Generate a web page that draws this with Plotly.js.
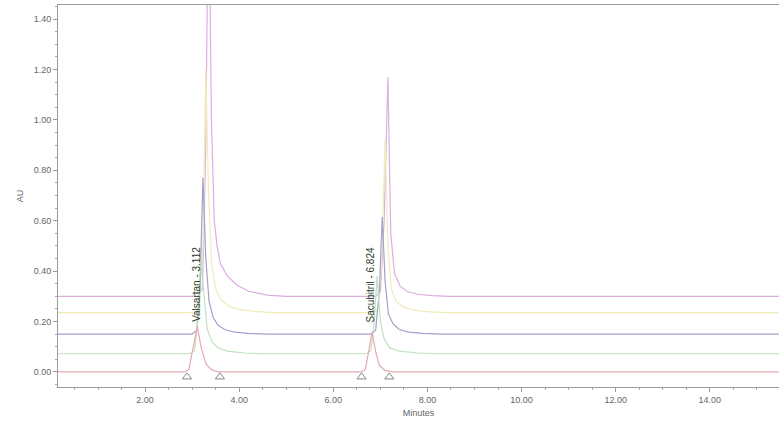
<!DOCTYPE html>
<html>
<head>
<meta charset="utf-8">
<script src="https://cdn.plot.ly/plotly-3.0.1.min.js"></script>
<style>html,body{margin:0;padding:0;background:#fff;}#chart{width:779px;height:421px;}</style>
</head>
<body>
<div id="chart"></div>
<script>
// Chromatogram traces (time in minutes, absorbance in AU)
const timeRed = [0.15, 2.85, 2.93, 3.02, 3.11, 3.2, 3.3, 3.42, 3.55, 6.6, 6.68, 6.75, 6.824, 6.9, 6.98, 7.1, 7.25, 15.5];
const auRed   = [0, 0, 0.01, 0.09, 0.18, 0.09, 0.03, 0.008, 0, 0, 0.01, 0.08, 0.16, 0.08, 0.025, 0.006, 0, 0];

const timeGreen = [0.15, 2.95, 3.05, 3.12, 3.18, 3.25, 3.32, 3.42, 3.55, 3.75, 4.1, 4.5, 6.7, 6.8, 6.87, 6.93, 7.0, 7.08, 7.2, 7.4, 7.8, 8.2, 15.5];
const auGreen   = [0.072, 0.072, 0.085, 0.2, 0.45, 0.3, 0.17, 0.12, 0.095, 0.082, 0.075, 0.072, 0.072, 0.085, 0.2, 0.38, 0.2, 0.13, 0.095, 0.082, 0.075, 0.072, 0.072];

const timeBlue = [0.15, 3.0, 3.1, 3.17, 3.23, 3.29, 3.36, 3.45, 3.55, 3.7, 3.9, 4.2, 4.6, 6.8, 6.9, 6.98, 7.04, 7.1, 7.17, 7.27, 7.4, 7.6, 7.9, 8.3, 15.5];
const auBlue   = [0.15, 0.15, 0.165, 0.35, 0.77, 0.45, 0.28, 0.215, 0.185, 0.167, 0.158, 0.153, 0.15, 0.15, 0.165, 0.33, 0.615, 0.36, 0.23, 0.19, 0.168, 0.158, 0.153, 0.15, 0.15];

const timeYellow = [0.15, 3.05, 3.15, 3.23, 3.29, 3.35, 3.42, 3.5, 3.62, 3.8, 4.0, 4.3, 4.7, 6.85, 6.95, 7.03, 7.1, 7.16, 7.23, 7.33, 7.48, 7.7, 8.0, 8.4, 15.5];
const auYellow   = [0.235, 0.235, 0.25, 0.5, 1.2, 0.7, 0.42, 0.33, 0.285, 0.26, 0.248, 0.24, 0.235, 0.235, 0.25, 0.45, 0.92, 0.5, 0.33, 0.28, 0.258, 0.245, 0.239, 0.235, 0.235];

const timeMagenta = [0.15, 3.12, 3.22, 3.29, 3.35, 3.41, 3.47, 3.53, 3.6, 3.75, 3.95, 4.2, 4.6, 5.0, 6.9, 7.0, 7.08, 7.16, 7.22, 7.3, 7.42, 7.58, 7.8, 8.1, 8.5, 15.5];
const auMagenta   = [0.30, 0.30, 0.33, 0.9, 2.0, 1.0, 0.6, 0.5, 0.43, 0.38, 0.345, 0.32, 0.305, 0.30, 0.30, 0.32, 0.6, 1.17, 0.55, 0.39, 0.34, 0.318, 0.308, 0.303, 0.30, 0.30];

// Peak integration start/end markers
const markerTimes = [2.89, 3.59, 6.60, 7.19];
const markerAU    = [-0.02, -0.02, -0.02, -0.02];

// Peak labels
const peakNames = ["Valsartan - 3.112", "Sacubitril - 6.824"];
const peakTimes = [3.09, 6.80];
const peakLabelAU = [0.19, 0.19];

const xTickVals = [2, 4, 6, 8, 10, 12, 14];
const xTickText = ["2.00", "4.00", "6.00", "8.00", "10.00", "12.00", "14.00"];
const yTickVals = [0, 0.2, 0.4, 0.6, 0.8, 1.0, 1.2, 1.4];
const yTickText = ["0.00", "0.20", "0.40", "0.60", "0.80", "1.00", "1.20", "1.40"];

function line(x, y, color) {
  return {x: x, y: y, type: 'scatter', mode: 'lines', line: {color: color, width: 1.2}, hoverinfo: 'skip', showlegend: false};
}

const data = [
  line(timeMagenta, auMagenta, '#dcaee0'),
  line(timeYellow, auYellow, '#f0ecb8'),
  line(timeBlue, auBlue, '#a2a2cc'),
  line(timeGreen, auGreen, '#bfe2bf'),
  line(timeRed, auRed, '#e8aab2'),
  {x: markerTimes, y: markerAU, type: 'scatter', mode: 'markers', marker: {symbol: 'triangle-up-open', size: 8, color: '#888', line: {width: 1}}, hoverinfo: 'skip', showlegend: false}
];

const annotations = peakNames.map((t, i) => ({
  x: peakTimes[i], y: peakLabelAU[i], xref: 'x', yref: 'y', text: t, showarrow: false,
  textangle: -90, xanchor: 'center', yanchor: 'bottom',
  font: {family: 'Liberation Sans, Arial, sans-serif', size: 10, color: '#2a3a2a'}
}));

const layout = {
  width: 779, height: 421,
  margin: {l: 58, r: 0, t: 5, b: 34},
  paper_bgcolor: '#fff', plot_bgcolor: '#fff',
  xaxis: {
    range: [0.15, 15.47], showgrid: false, zeroline: false,
    showline: true, linecolor: '#9a9a9a', linewidth: 1, mirror: true,
    tickvals: xTickVals, ticktext: xTickText, ticks: 'outside', ticklen: 4, tickcolor: '#9a9a9a',
    minor: {dtick: 0.5, ticks: 'outside', ticklen: 2, tickcolor: '#aaa'},
    tickfont: {family: 'Liberation Sans, Arial, sans-serif', size: 9, color: '#666'},
    title: {text: 'Minutes', font: {family: 'Liberation Sans, Arial, sans-serif', size: 9, color: '#666'}, standoff: 5}
  },
  yaxis: {
    range: [-0.06, 1.456], showgrid: false, zeroline: false,
    showline: true, linecolor: '#9a9a9a', linewidth: 1,
    tickvals: yTickVals, ticktext: yTickText, ticks: 'outside', ticklen: 4, tickcolor: '#9a9a9a',
    minor: {dtick: 0.05, ticks: 'outside', ticklen: 2, tickcolor: '#aaa'},
    tickfont: {family: 'Liberation Sans, Arial, sans-serif', size: 9, color: '#666'},
    title: {text: 'AU', font: {family: 'Liberation Sans, Arial, sans-serif', size: 9, color: '#666'}, standoff: 8}
  },
  annotations: annotations
};

Plotly.newPlot('chart', data, layout, {staticPlot: true, displayModeBar: false});
</script>
</body>
</html>
